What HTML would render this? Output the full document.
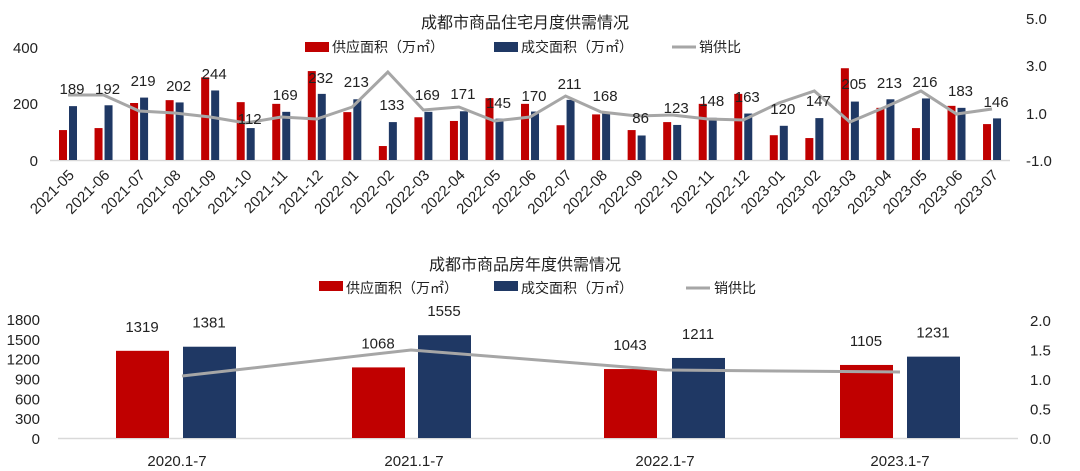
<!DOCTYPE html>
<html><head><meta charset="utf-8"><style>
body{margin:0;background:#fff;}
svg{display:block;font-family:"Liberation Sans","Noto Sans CJK SC",sans-serif;}
</style></head><body>
<svg id="s" width="1080" height="471" xmlns="http://www.w3.org/2000/svg"></svg>
<script>
var h='';
function t(x,y,s,sz,anc,extra){h+='<text x="'+x+'" y="'+y+'" font-size="'+sz+'" fill="#222" text-anchor="'+(anc||'middle')+'" '+(extra||'')+'>'+s+'</text>';}
// TOP CHART
t(525,28,'成都市商品住宅月度供需情况',16);
h+='<rect x="305" y="42" width="24" height="10" fill="#c00000"/>';t(332,52,'供应面积（万㎡）',14,'start');
h+='<rect x="494" y="42" width="24" height="10" fill="#1f3864"/>';t(521,52,'成交面积（万㎡）',14,'start');
h+='<line x1="672" y1="47" x2="696" y2="47" stroke="#a6a6a6" stroke-width="3"/>';t(699,52,'销供比',14,'start');
[[400,47],[200,103],[0,160]].forEach(function(a){t(38,a[1]+6,a[0],15,'end');});
[['5.0',18],['3.0',65],['1.0',113],['-1.0',160]].forEach(function(a){t(1026,a[1]+6,a[0],15,'start');});
h+='<line x1="50" y1="160.5" x2="1010" y2="160.5" stroke="#d9d9d9" stroke-width="1.5"/>';
var cats=['2021-05','2021-06','2021-07','2021-08','2021-09','2021-10','2021-11','2021-12','2022-01','2022-02','2022-03','2022-04','2022-05','2022-06','2022-07','2022-08','2022-09','2022-10','2022-11','2022-12','2023-01','2023-02','2023-03','2023-04','2023-05','2023-06','2023-07'];
var red=[105,112,200,210,290,203,197,312,168,49,150,137,217,197,122,160,105,133,197,232,87,77,322,183,112,190,126];
var blue=[189,192,219,202,244,112,169,232,213,133,169,171,145,170,211,168,86,123,148,163,120,147,205,213,216,183,146];
var ly=[95,95,111,113,117,123,117,119,107,72,110,107,121,117,96,112,116,115,119,120,103,91,122,107,91,114,109];
var lab=[88,88,80,85,73,118,94,77,81,104,94,93,102,95,83,95,117,107,100,96,108,100,83,82,81,90,101];
var k=0.285,pts=[];
for(var i=0;i<27;i++){var c=68+i*35.54;
 var rh=red[i]*k,bh=blue[i]*k;
 h+='<rect x="'+(c-9)+'" y="'+(160-rh)+'" width="8" height="'+rh+'" fill="#c00000"/>';
 h+='<rect x="'+(c+1)+'" y="'+(160-bh)+'" width="8" height="'+bh+'" fill="#1f3864"/>';
 pts.push(c+','+ly[i]);
 var cx=c+7,cy=176;
 h+='<text x="'+cx+'" y="'+cy+'" font-size="15" fill="#222" text-anchor="end" transform="rotate(-45 '+cx+' '+cy+')">'+cats[i]+'</text>';
}
h+='<polyline points="'+pts.join(' ')+'" fill="none" stroke="#a6a6a6" stroke-width="3"/>';
for(var i=0;i<27;i++){t(68+i*35.54+4,lab[i]+6,blue[i],15);}
// BOTTOM CHART
t(525,270,'成都市商品房年度供需情况',16);
h+='<rect x="319" y="281" width="24" height="10" fill="#c00000"/>';t(346,293,'供应面积（万㎡）',14,'start');
h+='<rect x="494" y="281" width="24" height="10" fill="#1f3864"/>';t(521,293,'成交面积（万㎡）',14,'start');
h+='<line x1="686" y1="288" x2="710" y2="288" stroke="#a6a6a6" stroke-width="3"/>';t(714,293,'销供比',14,'start');
[1800,1500,1200,900,600,300,0].forEach(function(v,j){t(40,319+j*19.83+6,v,15,'end');});
['2.0','1.5','1.0','0.5','0.0'].forEach(function(v,j){t(1030,320+j*29.5+6,v,15,'start');});
h+='<line x1="58" y1="438.5" x2="1018" y2="438.5" stroke="#d9d9d9" stroke-width="1.5"/>';
var g=[[116,183,1319,1381,'2020.1-7',177],[352,418,1068,1555,'2021.1-7',414],[604,672,1043,1211,'2022.1-7',665],[840,907,1105,1231,'2023.1-7',900]];
var kk=0.0661;
g.forEach(function(a){
 var rh=a[2]*kk,bh=a[3]*kk;
 h+='<rect x="'+a[0]+'" y="'+(438-rh)+'" width="53" height="'+rh+'" fill="#c00000"/>';
 h+='<rect x="'+a[1]+'" y="'+(438-bh)+'" width="53" height="'+bh+'" fill="#1f3864"/>';
 t(a[0]+26,438-rh-19,a[2],15);t(a[1]+26,438-bh-19,a[3],15);
 t(a[5],466,a[4],15);
});
h+='<polyline points="182,376 411,350 665,370 900,372" fill="none" stroke="#a6a6a6" stroke-width="3"/>';
document.getElementById('s').innerHTML=h;
</script>
</body></html>
